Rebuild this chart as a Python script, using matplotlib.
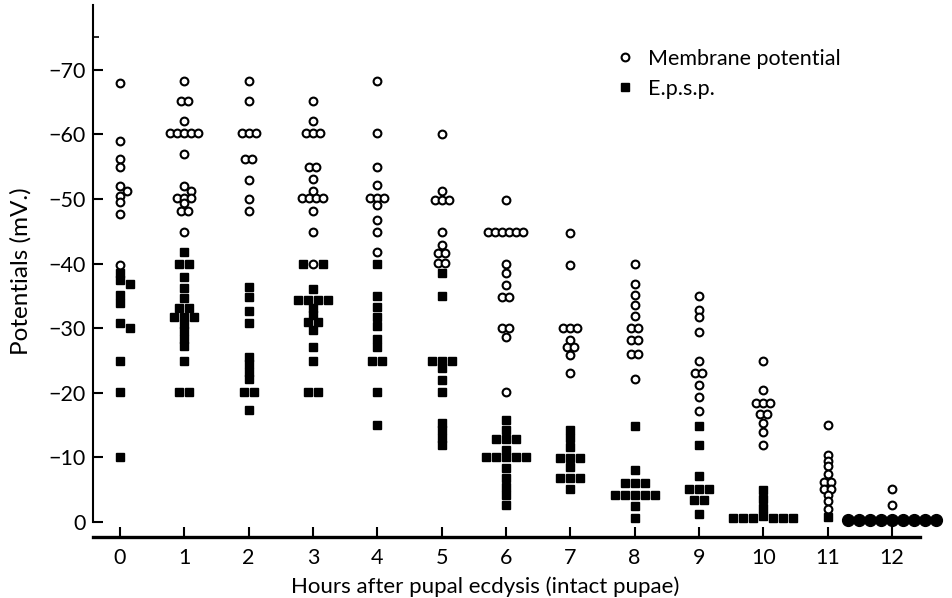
import matplotlib.pyplot as plt

plt.rcParams['font.family'] = ['Lato', 'DejaVu Sans']

hours = list(range(13))

# Membrane potentials (mV), one list per hour after ecdysis
mem_0 = [-68.0, -59.0, -56.1, -55.0, -52.0, -51.3, -50.5, -49.5, -47.6, -39.8]
mem_1 = [-68.2, -65.1, -65.1, -62.0, -60.2, -60.2, -60.2, -60.2, -60.2, -57.0,
         -52.0, -51.3, -50.2, -50.2, -50.2, -49.3, -48.1, -48.1, -44.9]
mem_2 = [-68.2, -65.1, -60.2, -60.2, -60.2, -56.1, -56.1, -52.9, -50.0, -48.1]
mem_3 = [-65.1, -62.0, -60.2, -60.2, -60.2, -55.0, -55.0, -53.1, -51.3,
         -50.2, -50.2, -50.2, -50.2, -48.1, -44.9, -40.0]
mem_4 = [-68.2, -60.2, -55.0, -52.1, -50.2, -50.2, -50.2, -49.0, -46.8, -44.9, -41.8]
mem_5 = [-60.0, -51.2, -49.9, -49.9, -49.9, -44.9, -42.8, -41.7, -41.7, -40.1, -40.1]
mem_6 = [-49.9, -44.9, -44.9, -44.9, -44.9, -44.9, -44.9, -40.0, -38.6, -36.7,
         -34.9, -34.9, -30.1, -30.1, -28.7, -20.1]
mem_7 = [-44.8, -39.8, -30.0, -30.0, -30.0, -28.2, -27.1, -27.1, -25.9, -23.0]
mem_8 = [-40.0, -36.9, -35.2, -33.6, -31.9, -30.1, -30.1, -28.1, -28.1, -26.0, -26.0, -22.2]
mem_9 = [-35.0, -32.8, -31.7, -29.4, -25.0, -23.0, -23.0, -21.2, -19.3, -17.2]
mem_10 = [-25.0, -20.5, -18.5, -18.5, -18.5, -16.7, -16.7, -15.3, -14.0, -12.0]
mem_11 = [-15.1, -10.4, -9.5, -8.7, -7.4, -6.2, -6.2, -5.2, -5.2, -4.2, -3.3, -2.1]
mem_12 = [-5.2, -2.6]

# E.p.s.p. amplitudes (mV)
epsp_0 = [-38.5, -37.5, -36.8, -35.1, -33.9, -30.8, -30.0, -25.0, -20.1, -10.1]
epsp_1 = [-41.8, -40.0, -40.0, -37.9, -36.2, -34.6, -33.1, -33.1, -31.7, -31.7, -31.7,
          -30.6, -29.6, -28.4, -27.2, -25.0, -20.1, -20.1]
epsp_2 = [-36.3, -34.8, -32.6, -30.8, -25.5, -24.4, -23.3, -22.1, -20.1, -20.1, -17.4]
epsp_3 = [-40.0, -40.0, -36.0, -34.4, -34.4, -34.4, -34.4, -33.1, -32.0,
          -31.0, -31.0, -29.8, -27.1, -25.0, -20.1, -20.1]
epsp_4 = [-40.0, -35.0, -33.3, -31.7, -30.3, -28.3, -27.1, -25.0, -25.0, -20.1, -15.0]
epsp_5 = [-38.6, -35.0, -25.0, -25.0, -25.0, -23.8, -22.0, -20.1, -15.3, -14.3, -13.0, -11.9]
epsp_6 = [-15.8, -14.3, -12.8, -12.8, -12.8, -11.2, -10.0, -10.0, -10.0, -10.0, -10.0,
          -8.3, -6.8, -5.5, -4.2, -2.6]
epsp_7 = [-14.3, -13.0, -11.7, -9.9, -9.9, -9.9, -8.5, -6.8, -6.8, -6.8, -5.2]
epsp_8 = [-14.9, -8.1, -6.1, -6.1, -6.1, -4.2, -4.2, -4.2, -4.2, -4.2, -2.5, -0.6]
epsp_9 = [-14.9, -11.9, -7.1, -5.2, -5.2, -5.2, -3.4, -3.4, -1.3]
epsp_10 = [-5.0, -3.6, -2.2, -1.0, -0.6, -0.6, -0.6, -0.6, -0.6, -0.6]
epsp_11 = [-0.8]
epsp_12 = []

# at 12 h both potentials sit near 0 mV and the symbols merge into black dots
both_12 = [-0.3] * 9

mem_all = [mem_0, mem_1, mem_2, mem_3, mem_4, mem_5, mem_6, mem_7, mem_8,
           mem_9, mem_10, mem_11, mem_12]
epsp_all = [epsp_0, epsp_1, epsp_2, epsp_3, epsp_4, epsp_5, epsp_6, epsp_7,
            epsp_8, epsp_9, epsp_10, epsp_11, epsp_12]
both_all = [[]] * 12 + [both_12]

PX_H = 64.3    # pixels per hour on the x axis
SPACING = {'c': 7.0, 's': 10.0, 'b': 11.0}
HALF = {'c': 0.4, 's': 0.5, 'b': 0.6}


def swarm(groups_by_kind):
    """Spread coinciding symbols sideways like the hand-drawn dot plot."""
    placed = []

    def free(dx, v, k):
        for dx2, v2, k2 in placed:
            if abs(dx - dx2) < 6 and abs(v - v2) < HALF[k] + HALF[k2]:
                return False
        return True

    for k, vals in groups_by_kind:
        groups = []
        for v in vals:
            for g in groups:
                if g[0] == v:
                    g[1] += 1
                    break
            else:
                groups.append([v, 1])
        s = SPACING[k]
        for v, n in groups:
            offs = [(i - (n - 1) / 2) * s for i in range(n)]
            if all(free(o, v, k) for o in offs):
                placed.extend((o, v, k) for o in offs)
                continue
            for _ in range(n):
                j = 0
                while True:
                    cands = [0.0] if j == 0 else [j * s, -j * s]
                    ok = [c for c in cands if free(c, v, k)]
                    if ok:
                        placed.append((ok[0], v, k))
                        break
                    j += 1
    return placed


fig = plt.figure(figsize=(9.53, 5.98), dpi=100)
ax = fig.add_axes([93 / 953, 61 / 598, 860 / 953, 532 / 598])

xs = {'c': [], 's': [], 'b': []}
ys = {'c': [], 's': [], 'b': []}
for h, m, e, b in zip(hours, mem_all, epsp_all, both_all):
    for dx, v, k in swarm([('c', m), ('s', e), ('b', b)]):
        xs[k].append(h + dx / PX_H)
        ys[k].append(v)

ax.plot(xs['c'], ys['c'], 'o', ms=5.6, mfc='white', mec='black', mew=1.5,
        linestyle='none', label='Membrane potential', clip_on=False, zorder=3)
ax.plot(xs['s'], ys['s'], 's', ms=6.0, color='black', linestyle='none',
        label='E.p.s.p.', clip_on=False, zorder=2)
ax.plot(xs['b'], ys['b'], 'o', ms=8.5, color='black', linestyle='none',
        clip_on=False, zorder=2)

ax.set_xlim(-0.42, 12.95)
ax.set_ylim(2.3, -80)

ax.spines['top'].set_visible(False)
ax.spines['right'].set_visible(False)
ax.spines['bottom'].set_linewidth(2.4)
ax.spines['bottom'].set_bounds(-0.42, 12.43)
ax.spines['left'].set_linewidth(1.5)
ax.spines['left'].set_bounds(0, -80)

ax.set_xticks(hours)
ax.set_yticks(range(0, -80, -10))
ax.set_yticks([-75], minor=True)
ax.tick_params(axis='x', direction='in', length=7.5, width=1.5, pad=8, labelsize=15.5)
ax.tick_params(axis='y', direction='in', length=7.5, width=1.5, pad=5, labelsize=15.5)
ax.tick_params(axis='y', which='minor', direction='in', length=4, width=1.2)

ax.set_xlabel('Hours after pupal ecdysis (intact pupae)', fontsize=16)
ax.xaxis.set_label_coords(0.456, -0.075)
ax.set_ylabel('Potentials (mV.)', fontsize=17.5)
ax.yaxis.set_label_coords(-0.072, 0.5)

ax.legend(loc='upper left', bbox_to_anchor=(617 / 953, 1 - 49 / 598),
          bbox_transform=fig.transFigure, frameon=False, fontsize=15.5,
          handlelength=0.75, handletextpad=0.7, labelspacing=0.45,
          borderpad=0, borderaxespad=0, numpoints=1)

fig.savefig('out.png', dpi=100)
